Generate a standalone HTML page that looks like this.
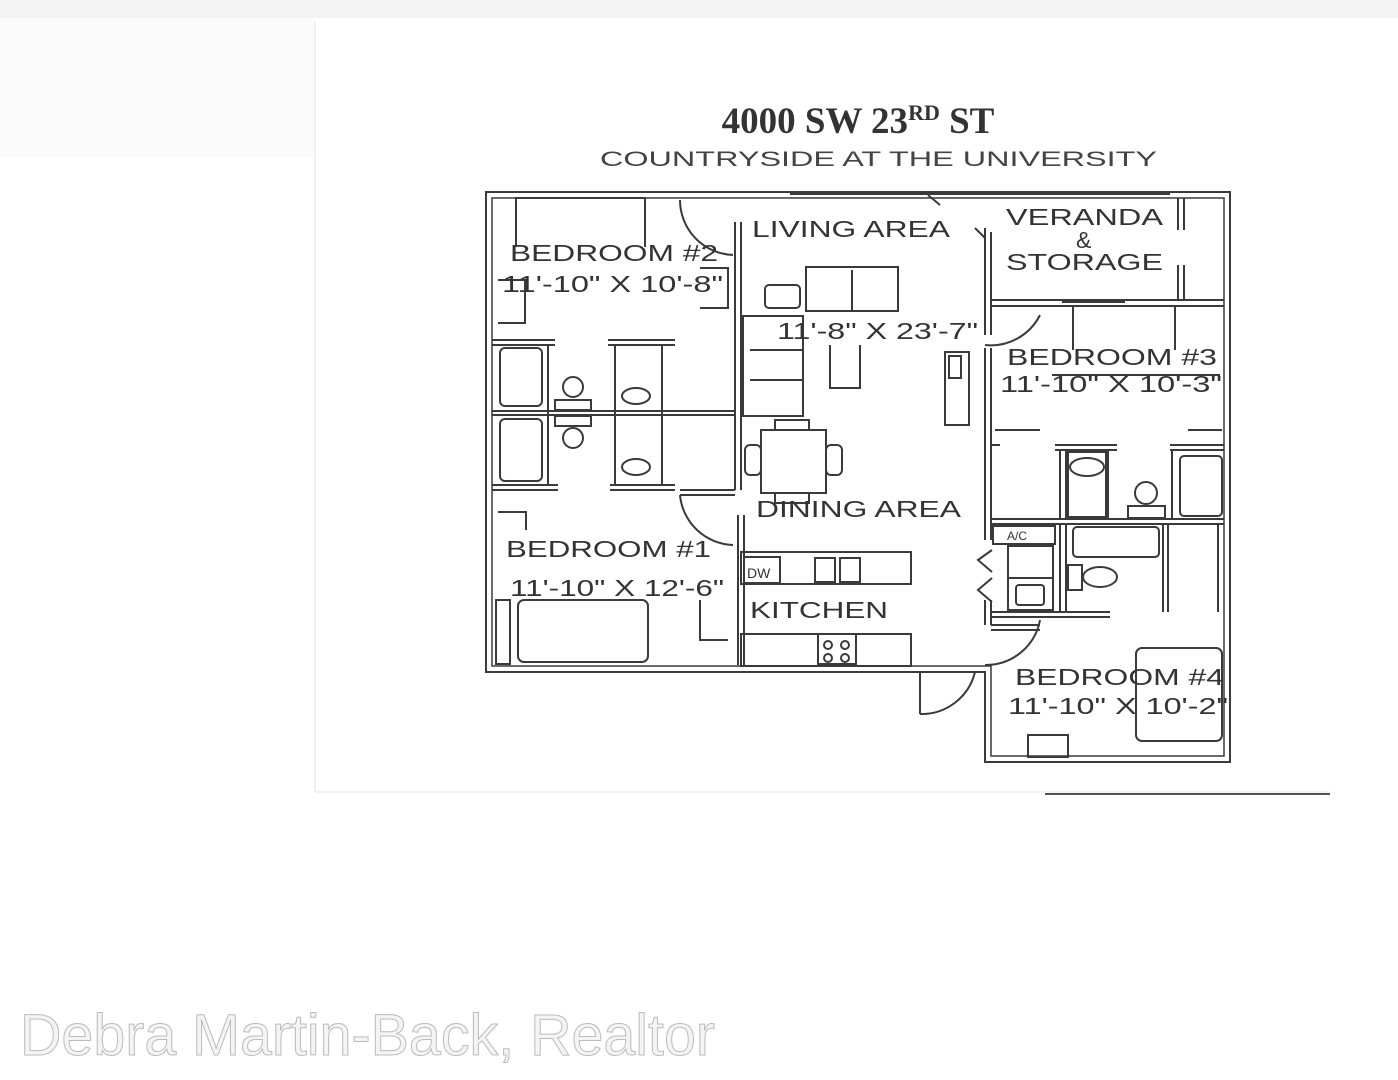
<!DOCTYPE html>
<html><head><meta charset="utf-8"><style>
html,body{margin:0;padding:0;background:#fff;}
svg{display:block}
</style></head><body>
<svg width="1398" height="1080" viewBox="0 0 1398 1080" xmlns="http://www.w3.org/2000/svg">
<rect width="1398" height="1080" fill="#fff"/>
<rect x="0" y="0" width="1398" height="18" fill="#f3f3f3"/>
<rect x="0" y="18" width="315" height="140" fill="#fbfbfb"/>
<line x1="315" y1="22" x2="315" y2="792" stroke="#f0f0f0" stroke-width="2"/>
<line x1="315" y1="792" x2="1330" y2="792" stroke="#f2f2f2" stroke-width="2"/>
<line x1="1045" y1="794" x2="1330" y2="794" stroke="#555" stroke-width="2"/>

<text x="858" y="133" text-anchor="middle" font-family="Liberation Serif, serif" font-weight="bold" font-size="37" fill="#333">4000 SW 23<tspan font-size="22" dy="-13">RD</tspan><tspan dy="13"> ST</tspan></text>
<text x="600" y="166" textLength="557" lengthAdjust="spacingAndGlyphs" font-family="Liberation Sans, sans-serif" font-size="21" fill="#444">COUNTRYSIDE AT THE UNIVERSITY</text>

<g fill="none" stroke="#3a3a3a" stroke-width="2">
<path d="M486 192 H1230 V762 H985 V672 H486 Z"/>
<path d="M492 198 H1224 V756 H991 V666 H492 Z" stroke-width="1.5"/>
<line x1="790" y1="193" x2="1170" y2="193" stroke-width="4"/>
<line x1="735" y1="222" x2="735" y2="490"/><line x1="741" y1="222" x2="741" y2="490"/>
<line x1="738" y1="515" x2="738" y2="665"/><line x1="744" y1="515" x2="744" y2="665"/>
<line x1="492" y1="340" x2="555" y2="340"/><line x1="492" y1="345" x2="555" y2="345"/>
<line x1="608" y1="340" x2="675" y2="340"/><line x1="608" y1="345" x2="675" y2="345"/>
<line x1="492" y1="411" x2="735" y2="411"/><line x1="492" y1="415" x2="735" y2="415"/>
<line x1="492" y1="485" x2="558" y2="485"/><line x1="492" y1="490" x2="558" y2="490"/>
<line x1="610" y1="485" x2="675" y2="485"/><line x1="610" y1="490" x2="675" y2="490"/>
<line x1="680" y1="490" x2="735" y2="490"/><line x1="680" y1="495" x2="735" y2="495"/>
<line x1="548" y1="345" x2="548" y2="485"/><line x1="615" y1="345" x2="615" y2="485"/><line x1="662" y1="345" x2="662" y2="485"/>
<path d="M680 200 A55 55 0 0 0 733 255"/>
<path d="M680 495 A55 55 0 0 0 733 545"/>
<path d="M985 345 A55 55 0 0 0 1040 315"/>
<path d="M985 665 A55 55 0 0 0 1040 620"/>
<path d="M920 714 A55 55 0 0 0 975 672"/>
<line x1="920" y1="672" x2="920" y2="714"/>
<line x1="985" y1="228" x2="985" y2="335"/><line x1="991" y1="232" x2="991" y2="335"/>
<line x1="985" y1="348" x2="985" y2="540"/><line x1="991" y1="348" x2="991" y2="540"/>
<line x1="985" y1="600" x2="985" y2="625"/><line x1="991" y1="600" x2="991" y2="625"/>
<line x1="991" y1="300" x2="1224" y2="300"/><line x1="991" y1="306" x2="1224" y2="306"/>
<line x1="1062" y1="301" x2="1125" y2="301" stroke-width="4"/>
<line x1="1178" y1="198" x2="1178" y2="230"/><line x1="1184" y1="198" x2="1184" y2="230"/>
<line x1="1178" y1="265" x2="1178" y2="300"/><line x1="1184" y1="265" x2="1184" y2="300"/>
<line x1="991" y1="625" x2="1040" y2="625"/><line x1="991" y1="630" x2="1040" y2="630"/>
<line x1="991" y1="445" x2="1000" y2="445"/>
<line x1="1055" y1="445" x2="1117" y2="445"/><line x1="1055" y1="450" x2="1117" y2="450"/>
<line x1="1170" y1="445" x2="1224" y2="445"/><line x1="1170" y1="450" x2="1224" y2="450"/>
<line x1="1060" y1="450" x2="1060" y2="519"/><line x1="1066" y1="450" x2="1066" y2="519"/>
<line x1="1108" y1="450" x2="1108" y2="519"/>
<line x1="1172" y1="450" x2="1172" y2="519"/>
<line x1="991" y1="519" x2="1224" y2="519"/><line x1="991" y1="524" x2="1224" y2="524"/>
<line x1="1060" y1="524" x2="1060" y2="612"/><line x1="1066" y1="524" x2="1066" y2="612"/>
<line x1="1163" y1="524" x2="1163" y2="612"/><line x1="1168" y1="524" x2="1168" y2="612"/>
<line x1="1218" y1="524" x2="1218" y2="612"/>
<line x1="991" y1="612" x2="1110" y2="612"/><line x1="991" y1="617" x2="1110" y2="617"/>
<rect x="993" y="526" width="62" height="18"/>
<rect x="1008" y="546" width="45" height="64"/><line x1="1008" y1="578" x2="1053" y2="578"/>
<rect x="1016" y="585" width="28" height="20" rx="3"/>
<path d="M992 550 L978 560 L992 572 M992 578 L978 590 L992 602"/>
<rect x="1073" y="527" width="86" height="30" rx="4"/>
<rect x="1068" y="565" width="14" height="25"/><ellipse cx="1100" cy="577" rx="17" ry="10"/>
<rect x="1180" y="456" width="42" height="60" rx="4"/>
<rect x="1068" y="452" width="38" height="65"/><ellipse cx="1087" cy="467" rx="17" ry="9"/>
<circle cx="1146" cy="493" r="11"/><rect x="1128" y="506" width="37" height="12"/>
<path d="M1073 350 V306 H1175 V350"/><line x1="1052" y1="375" x2="1220" y2="375"/>
<line x1="995" y1="430" x2="1040" y2="430"/><line x1="1188" y1="430" x2="1222" y2="430"/>
<rect x="1136" y="648" width="86" height="93" rx="6"/>
<rect x="1028" y="735" width="40" height="22"/>
<path d="M516 247 V198 H645 V247"/>
<path d="M498 280 H525 V323 H498"/>
<path d="M700 268 H728 V308 H700"/>
<rect x="500" y="348" width="42" height="58" rx="5"/><rect x="500" y="419" width="42" height="62" rx="5"/>
<circle cx="573" cy="387" r="10"/><rect x="555" y="400" width="36" height="10"/>
<rect x="555" y="416" width="36" height="10"/><circle cx="573" cy="438" r="10"/>
<ellipse cx="636" cy="396" rx="14" ry="8"/><ellipse cx="636" cy="467" rx="14" ry="8"/>
<rect x="518" y="600" width="130" height="62" rx="6"/>
<path d="M498 512 H526 V530"/><rect x="496" y="600" width="14" height="64"/>
<path d="M700 600 V640 H728"/>
<rect x="741" y="552" width="170" height="32"/><rect x="744" y="557" width="36" height="26"/>
<rect x="815" y="558" width="20" height="24"/><rect x="840" y="558" width="20" height="24"/>
<rect x="741" y="634" width="170" height="32"/><rect x="818" y="634" width="38" height="30"/>
<circle cx="828" cy="645" r="4"/><circle cx="845" cy="645" r="4"/><circle cx="828" cy="658" r="4"/><circle cx="845" cy="658" r="4"/>
<rect x="806" y="267" width="92" height="44"/><line x1="852" y1="270" x2="852" y2="311"/>
<rect x="765" y="285" width="35" height="23" rx="4"/>
<rect x="743" y="316" width="60" height="100"/><line x1="750" y1="350" x2="803" y2="350"/><line x1="750" y1="380" x2="803" y2="380"/>
<path d="M830 345 V388 H860 V345"/>
<rect x="761" y="430" width="65" height="63"/><rect x="775" y="420" width="34" height="10"/><rect x="775" y="493" width="34" height="10"/>
<rect x="745" y="445" width="16" height="30" rx="5"/><rect x="826" y="445" width="16" height="30" rx="5"/>
<rect x="945" y="352" width="24" height="73"/><rect x="949" y="356" width="12" height="22"/>
<path d="M928 195 L940 205 M975 228 L985 238"/>
</g>

<g font-family="Liberation Sans, sans-serif" fill="#333" font-size="23">
<text x="752" y="237" textLength="198" lengthAdjust="spacingAndGlyphs">LIVING AREA</text>
<text x="1006" y="225" textLength="157" lengthAdjust="spacingAndGlyphs">VERANDA</text>
<text x="1076" y="248">&amp;</text>
<text x="1006" y="270" textLength="157" lengthAdjust="spacingAndGlyphs">STORAGE</text>
<text x="510" y="261" textLength="208" lengthAdjust="spacingAndGlyphs">BEDROOM #2</text>
<text x="502" y="292" textLength="221" lengthAdjust="spacingAndGlyphs">11'-10" X 10'-8"</text>
<text x="777" y="339" textLength="201" lengthAdjust="spacingAndGlyphs">11'-8" X 23'-7"</text>
<text x="1007" y="365" textLength="210" lengthAdjust="spacingAndGlyphs">BEDROOM #3</text>
<text x="1000" y="392" textLength="222" lengthAdjust="spacingAndGlyphs">11'-10" X 10'-3"</text>
<text x="756" y="517" textLength="205" lengthAdjust="spacingAndGlyphs">DINING AREA</text>
<text x="506" y="557" textLength="205" lengthAdjust="spacingAndGlyphs">BEDROOM #1</text>
<text x="510" y="596" textLength="214" lengthAdjust="spacingAndGlyphs">11'-10" X 12'-6"</text>
<text x="750" y="618" textLength="138" lengthAdjust="spacingAndGlyphs">KITCHEN</text>
<text x="1015" y="685" textLength="209" lengthAdjust="spacingAndGlyphs">BEDROOM #4</text>
<text x="1008" y="714" textLength="220" lengthAdjust="spacingAndGlyphs">11'-10" X 10'-2"</text>
<text x="747" y="578" font-size="14">DW</text>
<text x="1007" y="540" font-size="12">A/C</text>
</g>

<text x="20" y="1055" textLength="695" lengthAdjust="spacingAndGlyphs" font-family="Liberation Sans, sans-serif" font-size="58" fill="#f4f4f4" stroke="#bbb" stroke-width="1">Debra Martin-Back, Realtor</text>
</svg>
</body></html>
